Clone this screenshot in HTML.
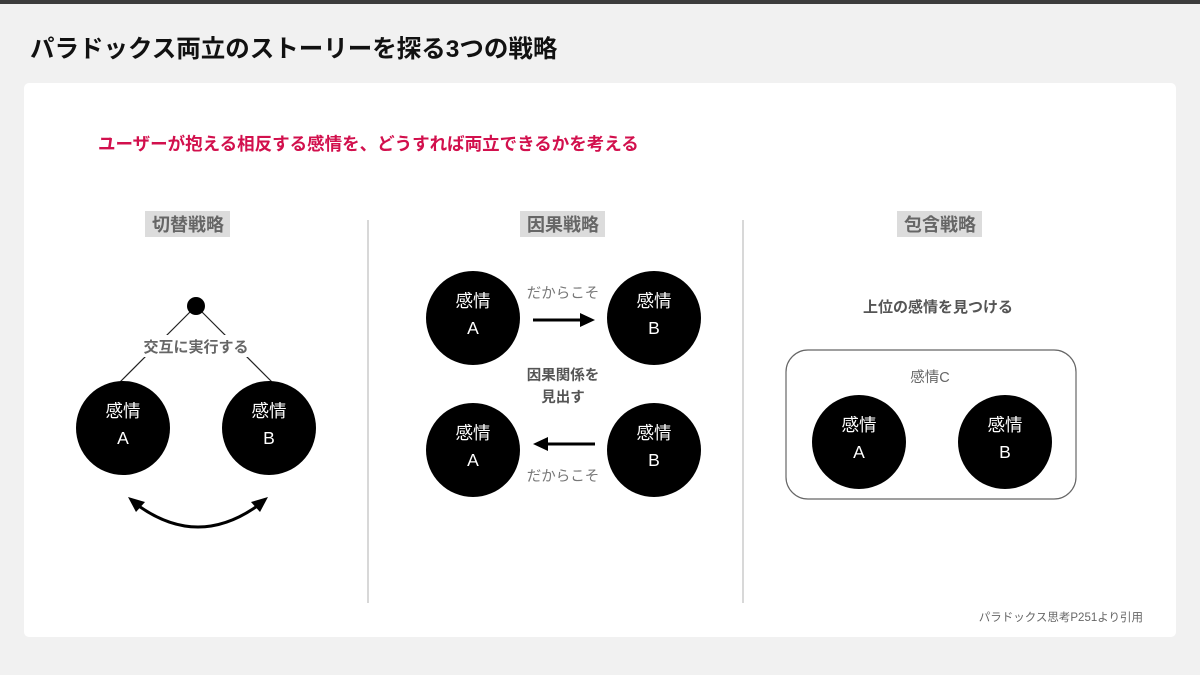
<!DOCTYPE html>
<html><head><meta charset="utf-8"><style>
html,body{margin:0;padding:0;width:1200px;height:675px;overflow:hidden;background:#f1f1f1;}
svg{display:block;font-family:"Liberation Sans","Noto Sans CJK JP",sans-serif;}
</style></head><body>
<svg width="1200" height="675" viewBox="0 0 1200 675" xmlns="http://www.w3.org/2000/svg">
<rect x="0" y="0" width="1200" height="4" fill="#3c3c3c"/>
<text x="30" y="57" font-size="24.5" font-weight="bold" fill="#111">パラドックス両立のストーリーを探る3つの戦略</text>
<rect x="24" y="83" width="1152" height="554" rx="5" fill="#fff"/>
<text x="98" y="150" font-size="17.5" font-weight="bold" fill="#d2104d">ユーザーが抱える相反する感情を、どうすれば両立できるかを考える</text>
<line x1="368" y1="220" x2="368" y2="603" stroke="#ccc" stroke-width="1.5"/>
<line x1="743" y1="220" x2="743" y2="603" stroke="#ccc" stroke-width="1.5"/>
<g font-size="18" font-weight="bold" fill="#666" text-anchor="middle">
<rect x="145" y="211" width="85" height="26" fill="#dcdcdc"/><text x="188" y="231">切替戦略</text>
<rect x="520" y="211" width="85" height="26" fill="#dcdcdc"/><text x="563" y="231">因果戦略</text>
<rect x="897" y="211" width="85" height="26" fill="#dcdcdc"/><text x="940" y="231">包含戦略</text>
</g>
<line x1="196" y1="306" x2="120" y2="382" stroke="#222" stroke-width="1.2"/>
<line x1="196" y1="306" x2="272" y2="382" stroke="#222" stroke-width="1.2"/>
<circle cx="196" cy="306" r="9" fill="#000"/>
<rect x="138" y="335" width="116" height="22" fill="#fff"/>
<text x="196" y="352" font-size="15" font-weight="bold" fill="#666" text-anchor="middle">交互に実行する</text>
<g fill="#000"><circle cx="123" cy="428" r="47"/><circle cx="269" cy="428" r="47"/>
<circle cx="473" cy="318" r="47"/><circle cx="654" cy="318" r="47"/>
<circle cx="473" cy="450" r="47"/><circle cx="654" cy="450" r="47"/>
<circle cx="859" cy="442" r="47"/><circle cx="1005" cy="442" r="47"/></g>
<g fill="#fff" font-size="17.5" text-anchor="middle">
<text x="123" y="417">感情</text><text x="123" y="444">A</text>
<text x="269" y="417">感情</text><text x="269" y="444">B</text>
<text x="473" y="307">感情</text><text x="473" y="334">A</text>
<text x="654" y="307">感情</text><text x="654" y="334">B</text>
<text x="473" y="439">感情</text><text x="473" y="466">A</text>
<text x="654" y="439">感情</text><text x="654" y="466">B</text>
<text x="859" y="431">感情</text><text x="859" y="458">A</text>
<text x="1005" y="431">感情</text><text x="1005" y="458">B</text>
</g>
<path d="M136,504 Q198,550 260,504" fill="none" stroke="#000" stroke-width="3"/>
<polygon points="128,497 145,502 136,512" fill="#000"/>
<polygon points="268,497 251,502 260,512" fill="#000"/>
<line x1="533" y1="320" x2="582" y2="320" stroke="#000" stroke-width="3"/>
<polygon points="595,320 580,313 580,327" fill="#000"/>
<line x1="595" y1="444" x2="546" y2="444" stroke="#000" stroke-width="3"/>
<polygon points="533,444 548,437 548,451" fill="#000"/>
<g font-size="14.5" fill="#777" text-anchor="middle">
<text x="563" y="298">だからこそ</text><text x="563" y="481">だからこそ</text></g>
<g font-size="14.5" font-weight="bold" fill="#555" text-anchor="middle">
<text x="563" y="380">因果関係を</text><text x="563" y="402">見出す</text></g>
<text x="938" y="312" font-size="15" font-weight="bold" fill="#555" text-anchor="middle">上位の感情を見つける</text>
<rect x="786" y="350" width="290" height="149" rx="22" fill="none" stroke="#666" stroke-width="1.2"/>
<text x="930" y="382" font-size="14.5" fill="#666" text-anchor="middle">感情C</text>
<text x="1143" y="621" font-size="11.5" fill="#666" text-anchor="end">パラドックス思考P251より引用</text>
</svg>
</body></html>
